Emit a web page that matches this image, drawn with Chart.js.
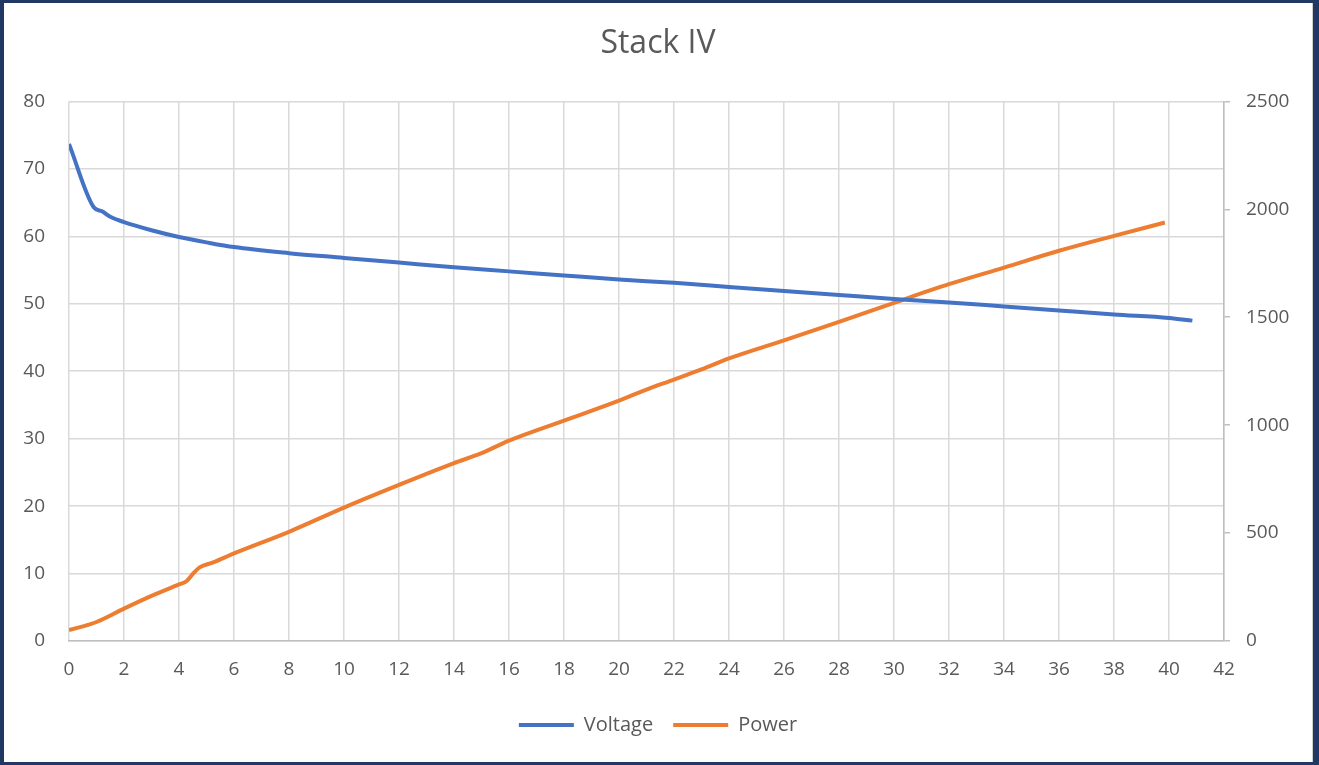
<!DOCTYPE html>
<html>
<head>
<meta charset="utf-8">
<script src="https://cdn.jsdelivr.net/npm/chart.js@4.4.1/dist/chart.umd.min.js"></script>
<style>
  html, body { margin: 0; padding: 0; }
  body { width: 1319px; height: 765px; background: #1f3864; position: relative; overflow: hidden; }
  #frame { position: absolute; left: 4px; top: 3px; width: 1308px; height: 759px; background: #fff; border-right: 1px solid #d0d0d0; }
  #frame canvas { display: block; }
</style>
</head>
<body>
<div id="frame"><canvas id="myChart" width="1308" height="759"></canvas></div>
<script>
const voltageX = [0, 0.9, 1.2, 1.5, 2, 3, 4, 5, 6, 8, 10, 12, 14, 16, 18, 20, 22, 24, 26, 28, 30, 32, 34, 36, 38, 40, 40.85];
const voltageY = [73.7, 64.3, 63.7, 62.9, 62.1, 60.9, 59.9, 59.1, 58.4, 57.5, 56.8, 56.1, 55.4, 54.8, 54.2, 53.6, 53.1, 52.5, 51.9, 51.3, 50.7, 50.2, 49.6, 49.0, 48.4, 47.9, 47.5];

const powerX = [0, 1, 2, 3, 4, 4.27, 4.52, 4.75, 5.24, 6, 8, 10, 12, 14, 15, 16, 18, 20, 21, 22, 23, 24, 26, 28, 30, 32, 34, 36, 38, 39.85];
const powerY = [50, 88, 150, 209, 262, 277, 313, 341, 364, 406, 506, 618, 723, 824, 870, 928, 1021, 1114, 1165, 1211, 1258, 1309, 1393, 1479, 1567, 1653, 1730, 1808, 1877, 1939];

// axis ticks: min, max, step
const xTicks = [0, 42, 2];
const voltTicks = [0, 80, 10];
const powerTicks = [0, 2500, 500];

const textColor = "#595959";
const gridColor = "#d9d9d9";
const axisColor = "#bfbfbf";
const fontFamily = "'Open Sans', sans-serif";

const toPoints = (xs, ys) => xs.map((x, i) => ({ x: x, y: ys[i] }));

const config = {
  type: "line",
  data: {
    datasets: [
      {
        label: "Voltage",
        data: toPoints(voltageX, voltageY),
        borderColor: "#4472c4",
        backgroundColor: "#4472c4",
        borderWidth: 4,
        pointRadius: 0,
        cubicInterpolationMode: "monotone",
        yAxisID: "y",
      },
      {
        label: "Power",
        data: toPoints(powerX, powerY),
        borderColor: "#ed7d31",
        backgroundColor: "#ed7d31",
        borderWidth: 4,
        pointRadius: 0,
        cubicInterpolationMode: "monotone",
        yAxisID: "y1",
      },
    ],
  },
  options: {
    responsive: false,
    animation: false,
    layout: { padding: { left: 0, right: 0, top: 0, bottom: 17 } },
    plugins: {
      title: {
        display: true,
        text: "Stack IV",
        color: textColor,
        font: { family: fontFamily, size: 32, weight: "normal" },
        padding: { top: 22, bottom: 38 },
      },
      legend: {
        position: "bottom",
        labels: {
          color: textColor,
          font: { family: fontFamily, size: 20 },
          boxWidth: 55,
          boxHeight: 4,
          padding: 20,
          generateLabels: (chart) =>
            chart.data.datasets.map((ds, i) => ({
              text: ds.label,
              fillStyle: ds.borderColor,
              strokeStyle: ds.borderColor,
              lineWidth: 0,
              fontColor: textColor,
              datasetIndex: i,
            })),
        },
      },
      tooltip: { enabled: false },
    },
    scales: {
      x: {
        type: "linear",
        min: xTicks[0],
        max: xTicks[1],
        afterFit: (scale) => { scale.height = 54; },
        ticks: { stepSize: xTicks[2], color: textColor, padding: 17, font: { family: fontFamily, size: 19 } },
        grid: { color: gridColor, lineWidth: 1.5, drawTicks: false },
        border: { color: axisColor, width: 1.5 },
      },
      y: {
        position: "left",
        min: voltTicks[0],
        max: voltTicks[1],
        afterFit: (scale) => { scale.width = 65; },
        ticks: { stepSize: voltTicks[2], color: textColor, padding: 24, font: { family: fontFamily, size: 19 } },
        grid: { color: gridColor, lineWidth: 1.5, drawTicks: false },
        border: { display: false },
      },
      y1: {
        position: "right",
        min: powerTicks[0],
        max: powerTicks[1],
        afterFit: (scale) => { scale.width = 88; },
        ticks: {
          stepSize: powerTicks[2],
          color: textColor,
          padding: 16,
          font: { family: fontFamily, size: 19 },
          callback: (value) => String(value),
        },
        grid: { drawOnChartArea: false, drawTicks: true, tickLength: 6, color: axisColor, lineWidth: 1.5 },
        border: { color: axisColor, width: 1.5 },
      },
    },
  },
};

let myChart = new Chart(document.getElementById("myChart"), config);
</script>
</body>
</html>
